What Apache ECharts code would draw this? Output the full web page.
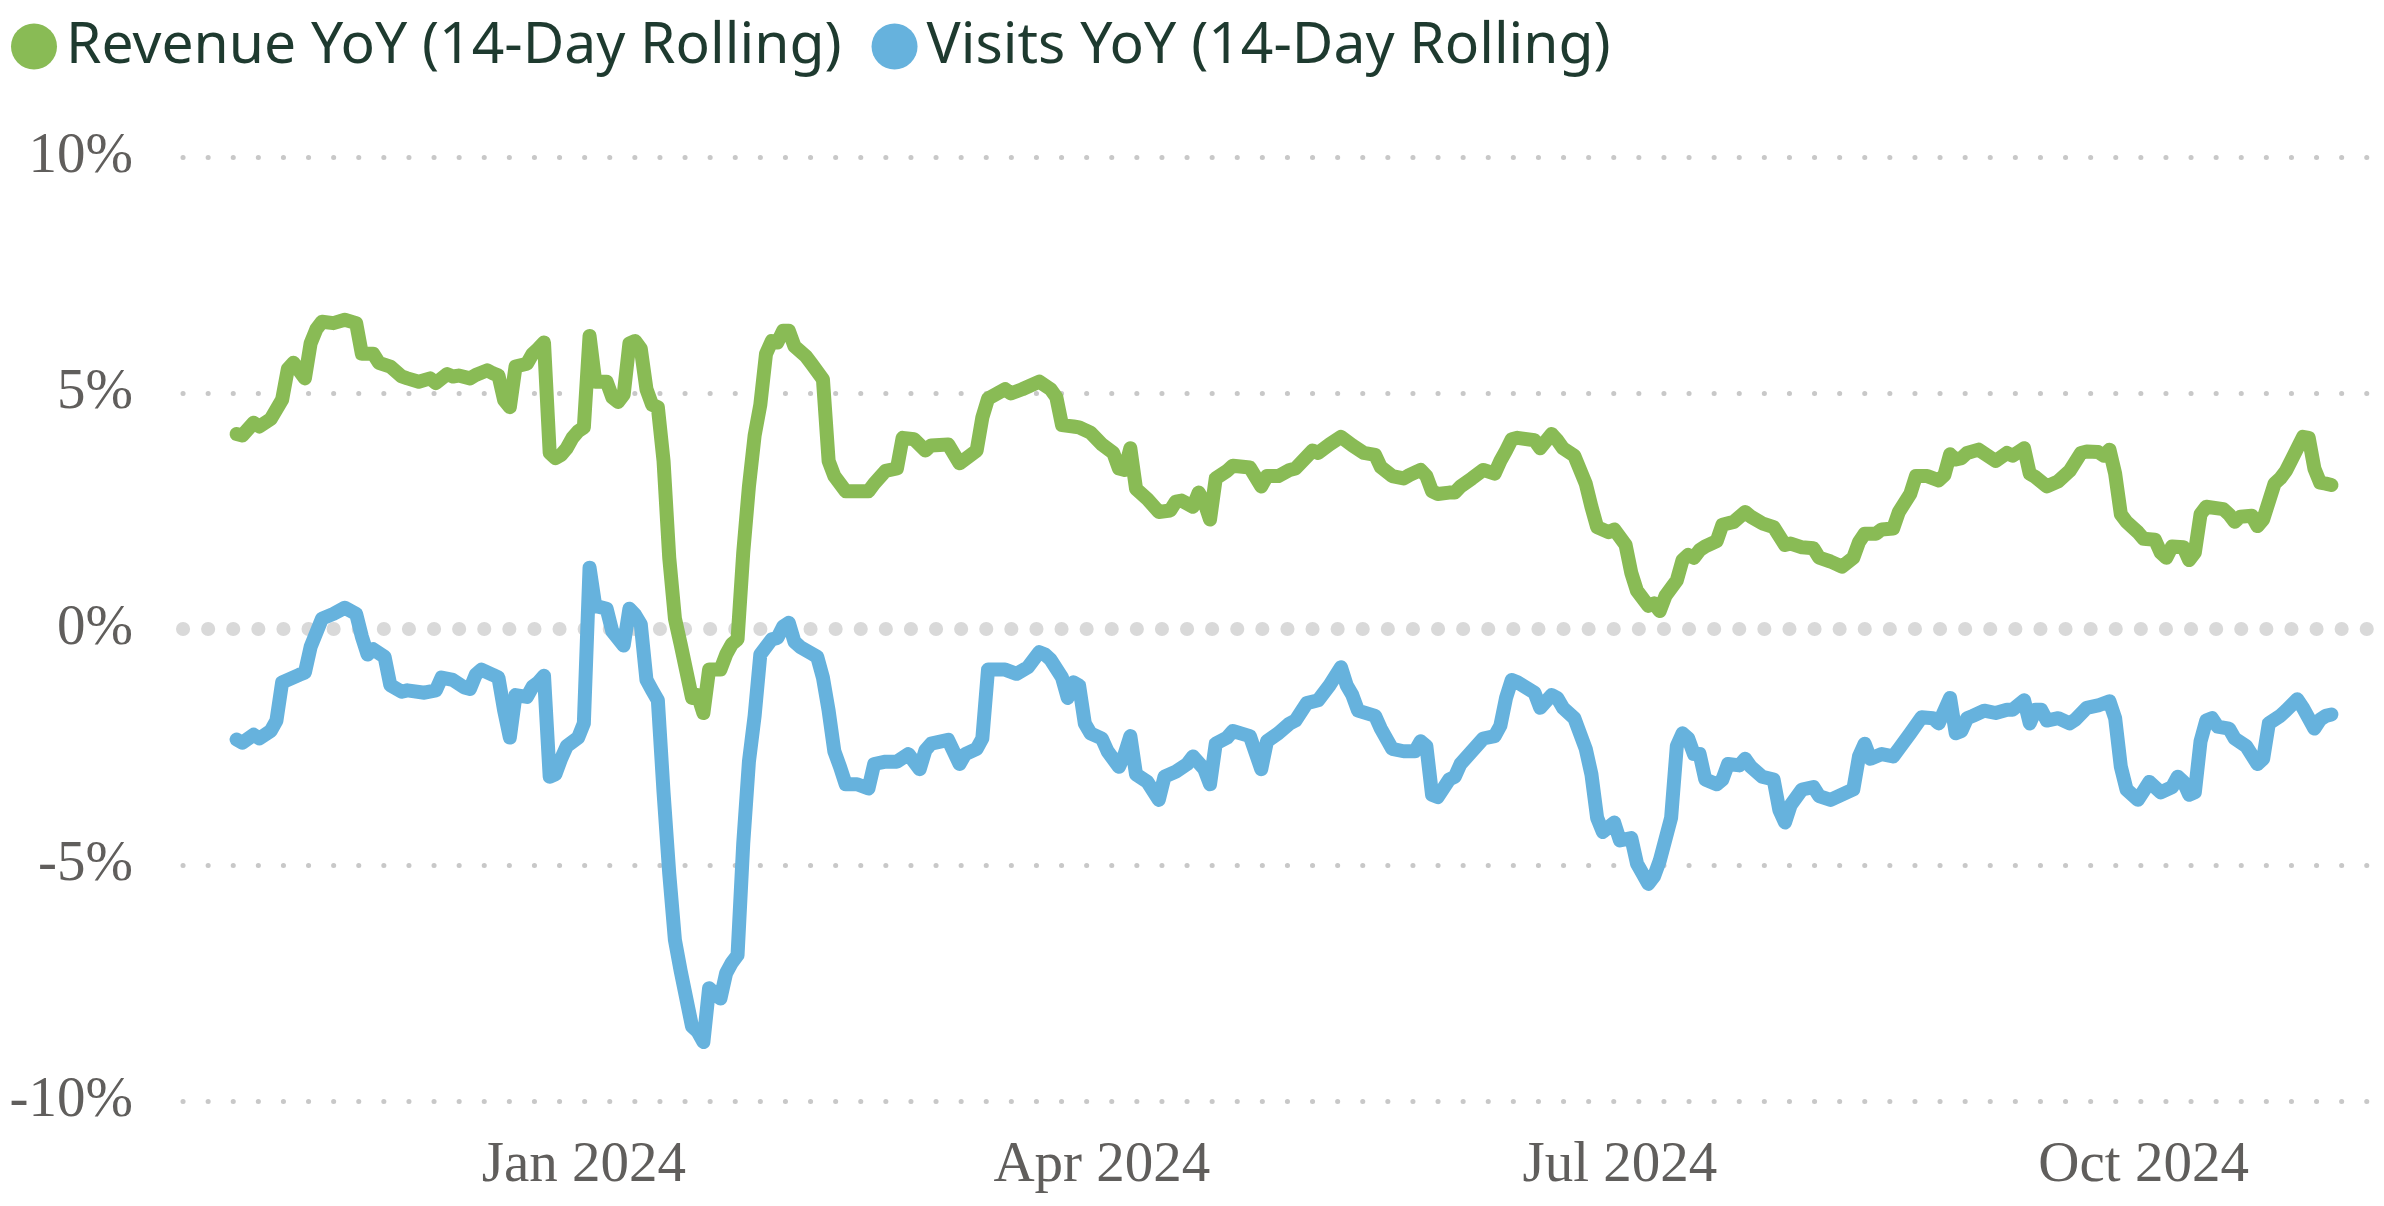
<!DOCTYPE html>
<html>
<head>
<meta charset="utf-8">
<script src="https://cdn.jsdelivr.net/npm/echarts@6/dist/echarts.min.js"></script>
<style>
html,body{margin:0;padding:0;background:#fff;}
#chart{width:2384px;height:1206px;}
</style>
</head>
<body>
<div id="chart"></div>
<script>
// ---- Data ----
const seriesNames = ['Revenue YoY (14-Day Rolling)', 'Visits YoY (14-Day Rolling)'];

const revenueDates = ['2023-11-01','2023-11-02','2023-11-04','2023-11-05','2023-11-07','2023-11-09','2023-11-10','2023-11-11','2023-11-13','2023-11-14','2023-11-15','2023-11-16','2023-11-18','2023-11-20','2023-11-22','2023-11-23','2023-11-25','2023-11-26','2023-11-28','2023-11-30',
'2023-12-01','2023-12-03','2023-12-05','2023-12-06','2023-12-08','2023-12-09','2023-12-10','2023-12-12','2023-12-13','2023-12-15','2023-12-16','2023-12-17','2023-12-18','2023-12-19','2023-12-20','2023-12-22','2023-12-23','2023-12-24','2023-12-25','2023-12-26','2023-12-27','2023-12-28','2023-12-29','2023-12-30','2023-12-31',
'2024-01-01','2024-01-02','2024-01-03','2024-01-05','2024-01-06','2024-01-07','2024-01-08','2024-01-09','2024-01-10','2024-01-11','2024-01-12','2024-01-13','2024-01-14','2024-01-15','2024-01-16','2024-01-17','2024-01-18','2024-01-20','2024-01-21','2024-01-22','2024-01-23','2024-01-25','2024-01-26','2024-01-27','2024-01-28','2024-01-29','2024-01-30','2024-01-31',
'2024-02-01','2024-02-02','2024-02-03','2024-02-04','2024-02-05','2024-02-06','2024-02-07','2024-02-09','2024-02-10','2024-02-12','2024-02-13','2024-02-14','2024-02-16','2024-02-20','2024-02-21','2024-02-23','2024-02-25','2024-02-26','2024-02-28',
'2024-03-01','2024-03-02','2024-03-05','2024-03-07','2024-03-09','2024-03-10','2024-03-11','2024-03-12','2024-03-15','2024-03-16','2024-03-18','2024-03-21','2024-03-23','2024-03-24','2024-03-25','2024-03-27','2024-03-28','2024-03-30',
'2024-04-01','2024-04-03','2024-04-04','2024-04-05','2024-04-06','2024-04-07','2024-04-09','2024-04-11','2024-04-13','2024-04-14','2024-04-15','2024-04-17','2024-04-18','2024-04-19','2024-04-20','2024-04-21','2024-04-23','2024-04-24','2024-04-27','2024-04-29','2024-04-30',
'2024-05-02','2024-05-04','2024-05-05','2024-05-08','2024-05-09','2024-05-11','2024-05-13','2024-05-15','2024-05-17','2024-05-19','2024-05-20','2024-05-22','2024-05-24','2024-05-25','2024-05-27','2024-05-28','2024-05-29','2024-05-30',
'2024-06-01','2024-06-02','2024-06-03','2024-06-05','2024-06-07','2024-06-09','2024-06-10','2024-06-11','2024-06-12','2024-06-13','2024-06-16','2024-06-17','2024-06-19','2024-06-20','2024-06-21','2024-06-23','2024-06-25','2024-06-26','2024-06-27','2024-06-29','2024-06-30',
'2024-07-02','2024-07-03','2024-07-04','2024-07-06','2024-07-07','2024-07-08','2024-07-09','2024-07-11','2024-07-12','2024-07-13','2024-07-14','2024-07-15','2024-07-16','2024-07-18','2024-07-19','2024-07-21','2024-07-23','2024-07-24','2024-07-26','2024-07-28','2024-07-30','2024-07-31',
'2024-08-02','2024-08-04','2024-08-05','2024-08-07','2024-08-09','2024-08-11','2024-08-12','2024-08-13','2024-08-15','2024-08-16','2024-08-18','2024-08-19','2024-08-21','2024-08-22','2024-08-24','2024-08-26','2024-08-27','2024-08-28','2024-08-29','2024-08-30','2024-08-31',
'2024-09-02','2024-09-05','2024-09-07','2024-09-08','2024-09-10','2024-09-11','2024-09-12','2024-09-14','2024-09-16','2024-09-18','2024-09-20','2024-09-21','2024-09-23','2024-09-24','2024-09-25','2024-09-26','2024-09-27','2024-09-28','2024-09-30',
'2024-10-01','2024-10-03','2024-10-04','2024-10-05','2024-10-06','2024-10-08','2024-10-09','2024-10-10','2024-10-11','2024-10-12','2024-10-15','2024-10-16','2024-10-17','2024-10-18','2024-10-20','2024-10-21','2024-10-22','2024-10-24','2024-10-25','2024-10-26','2024-10-27','2024-10-29','2024-10-30','2024-10-31',
'2024-11-01','2024-11-02','2024-11-03'];

const revenueValues = [4.13,4.10,4.37,4.29,4.45,4.86,5.51,5.64,5.31,6.05,6.35,6.51,6.48,6.55,6.48,5.83,5.83,5.64,5.56,5.35,
5.31,5.24,5.31,5.21,5.40,5.35,5.37,5.31,5.38,5.48,5.42,5.37,4.85,4.70,5.56,5.62,5.83,5.94,6.07,3.73,3.62,3.69,3.83,4.05,4.19,
4.27,6.21,5.24,5.24,4.91,4.81,4.97,6.05,6.10,5.94,5.08,4.75,4.70,3.56,1.51,0.22,-0.32,-1.46,-1.40,-1.78,-0.86,-0.86,-0.54,-0.32,-0.22,1.62,3.02,4.10,
4.75,5.83,6.10,6.07,6.32,6.32,5.99,5.78,5.62,5.29,3.56,3.24,2.92,2.92,3.08,3.35,3.40,4.05,4.02,
3.78,3.89,3.91,3.51,3.69,3.78,4.48,4.88,5.08,4.99,5.08,5.24,5.08,4.91,4.32,4.29,4.27,4.16,
3.91,3.73,3.40,3.37,3.83,2.97,2.75,2.48,2.51,2.70,2.72,2.59,2.89,2.68,2.32,3.19,3.35,3.46,3.42,3.02,3.24,
3.24,3.37,3.40,3.78,3.73,3.91,4.07,3.89,3.73,3.69,3.43,3.24,3.19,3.26,3.37,3.24,2.92,2.86,
2.89,2.89,3.02,3.19,3.37,3.29,3.56,3.78,4.02,4.05,4.00,3.83,4.13,4.00,3.83,3.67,3.08,2.59,2.16,2.05,2.11,
1.78,1.19,0.81,0.49,0.54,0.38,0.70,1.03,1.46,1.57,1.51,1.67,1.75,1.86,2.21,2.27,2.48,2.38,2.24,2.16,1.78,1.81,
1.73,1.71,1.51,1.43,1.32,1.51,1.84,2.02,2.02,2.11,2.13,2.48,2.86,3.24,3.24,3.15,3.26,3.70,3.59,3.62,3.73,
3.80,3.56,3.73,3.67,3.83,3.29,3.22,3.02,3.13,3.35,3.73,3.76,3.75,3.67,3.80,3.29,2.43,2.27,2.05,
1.91,1.89,1.62,1.51,1.75,1.73,1.46,1.62,2.43,2.59,2.54,2.43,2.27,2.38,2.40,2.18,2.32,3.08,3.19,3.35,3.59,4.07,4.05,3.40,
3.10,3.08,3.05];

const visitsDates = ['2023-11-01','2023-11-02','2023-11-04','2023-11-05','2023-11-07','2023-11-08','2023-11-09','2023-11-12','2023-11-13','2023-11-14','2023-11-16','2023-11-18','2023-11-20','2023-11-22','2023-11-23','2023-11-24','2023-11-25','2023-11-27','2023-11-28','2023-11-30',
'2023-12-01','2023-12-04','2023-12-06','2023-12-07','2023-12-09','2023-12-11','2023-12-12','2023-12-13','2023-12-14','2023-12-16','2023-12-17','2023-12-18','2023-12-19','2023-12-20','2023-12-22','2023-12-23','2023-12-24','2023-12-25','2023-12-26','2023-12-27','2023-12-28','2023-12-29','2023-12-31',
'2024-01-01','2024-01-02','2024-01-03','2024-01-05','2024-01-06','2024-01-08','2024-01-09','2024-01-10','2024-01-11','2024-01-12','2024-01-13','2024-01-14','2024-01-15','2024-01-16','2024-01-17','2024-01-18','2024-01-20','2024-01-21','2024-01-22','2024-01-23','2024-01-25','2024-01-26','2024-01-27','2024-01-28','2024-01-29','2024-01-30','2024-01-31',
'2024-02-01','2024-02-03','2024-02-04','2024-02-05','2024-02-06','2024-02-07','2024-02-08','2024-02-10','2024-02-11','2024-02-12','2024-02-13','2024-02-14','2024-02-15','2024-02-16','2024-02-18','2024-02-20','2024-02-21','2024-02-23','2024-02-25','2024-02-27','2024-02-29',
'2024-03-01','2024-03-02','2024-03-05','2024-03-07','2024-03-08','2024-03-10','2024-03-11','2024-03-12','2024-03-14','2024-03-15','2024-03-17','2024-03-19','2024-03-21','2024-03-22','2024-03-23','2024-03-25','2024-03-26','2024-03-27','2024-03-28','2024-03-29','2024-03-30',
'2024-04-01','2024-04-02','2024-04-04','2024-04-05','2024-04-06','2024-04-07','2024-04-09','2024-04-11','2024-04-12','2024-04-14','2024-04-16','2024-04-17','2024-04-19','2024-04-20','2024-04-21','2024-04-23','2024-04-24','2024-04-27','2024-04-29','2024-04-30',
'2024-05-02','2024-05-04','2024-05-05','2024-05-07','2024-05-09','2024-05-11','2024-05-13','2024-05-14','2024-05-15','2024-05-16','2024-05-19','2024-05-20','2024-05-22','2024-05-24','2024-05-26','2024-05-27','2024-05-28','2024-05-29','2024-05-30',
'2024-06-01','2024-06-02','2024-06-03','2024-06-05','2024-06-07','2024-06-09','2024-06-10','2024-06-11','2024-06-12','2024-06-13','2024-06-16','2024-06-17','2024-06-19','2024-06-20','2024-06-21','2024-06-23','2024-06-25','2024-06-26','2024-06-27','2024-06-28','2024-06-30',
'2024-07-01','2024-07-03','2024-07-04','2024-07-06','2024-07-07','2024-07-08','2024-07-10','2024-07-11','2024-07-12','2024-07-13','2024-07-14','2024-07-15','2024-07-16','2024-07-18','2024-07-19','2024-07-20','2024-07-22','2024-07-23','2024-07-24','2024-07-26','2024-07-28','2024-07-29','2024-07-30','2024-07-31',
'2024-08-02','2024-08-04','2024-08-05','2024-08-07','2024-08-09','2024-08-11','2024-08-12','2024-08-13','2024-08-14','2024-08-16','2024-08-18','2024-08-19','2024-08-21','2024-08-23','2024-08-25','2024-08-26','2024-08-28','2024-08-29','2024-08-30','2024-08-31',
'2024-09-01','2024-09-03','2024-09-05','2024-09-07','2024-09-08','2024-09-10','2024-09-11','2024-09-12','2024-09-13','2024-09-14','2024-09-16','2024-09-18','2024-09-19','2024-09-21','2024-09-23','2024-09-25','2024-09-26','2024-09-27','2024-09-28','2024-09-30',
'2024-10-01','2024-10-02','2024-10-04','2024-10-06','2024-10-07','2024-10-08','2024-10-09','2024-10-10','2024-10-11','2024-10-12','2024-10-13','2024-10-14','2024-10-16','2024-10-17','2024-10-19','2024-10-21','2024-10-22','2024-10-23','2024-10-25','2024-10-26','2024-10-28','2024-10-29','2024-10-31',
'2024-11-01','2024-11-02','2024-11-03'];

const visitsValues = [-2.34,-2.41,-2.24,-2.32,-2.16,-1.94,-1.13,-0.97,-0.92,-0.38,0.22,0.32,0.45,0.32,-0.16,-0.54,-0.43,-0.59,-1.19,-1.33,
-1.30,-1.35,-1.30,-1.03,-1.08,-1.24,-1.27,-0.97,-0.86,-0.97,-1.03,-1.73,-2.30,-1.40,-1.44,-1.22,-1.13,-0.99,-3.13,-3.08,-2.75,-2.48,-2.30,
-2.00,1.30,0.49,0.43,-0.05,-0.35,0.43,0.30,0.10,-1.08,-1.30,-1.51,-3.46,-5.18,-6.59,-7.24,-8.42,-8.53,-8.75,-7.61,-7.83,-7.29,-7.07,-6.91,-4.54,-2.81,-1.84,
-0.54,-0.22,-0.19,0.05,0.13,-0.27,-0.38,-0.52,-0.59,-1.03,-1.73,-2.59,-2.92,-3.29,-3.29,-3.38,-2.86,-2.81,-2.81,-2.65,-2.97,
-2.57,-2.43,-2.35,-2.86,-2.65,-2.54,-2.32,-0.86,-0.86,-0.86,-0.95,-0.81,-0.49,-0.54,-0.65,-1.03,-1.46,-1.13,-1.20,-2.00,-2.21,
-2.32,-2.59,-2.92,-2.65,-2.27,-3.08,-3.24,-3.62,-3.13,-3.02,-2.86,-2.70,-2.97,-3.29,-2.43,-2.30,-2.16,-2.27,-2.97,-2.38,
-2.21,-2.00,-1.94,-1.57,-1.51,-1.19,-0.81,-1.19,-1.40,-1.73,-1.84,-2.11,-2.54,-2.59,-2.59,-2.38,-2.48,-3.51,-3.56,
-3.19,-3.13,-2.86,-2.59,-2.32,-2.27,-2.05,-1.46,-1.08,-1.13,-1.35,-1.67,-1.40,-1.46,-1.67,-1.89,-2.54,-3.08,-4.00,-4.30,-4.10,
-4.48,-4.43,-4.97,-5.40,-5.24,-4.91,-4.00,-2.48,-2.21,-2.32,-2.65,-2.65,-3.19,-3.29,-3.19,-2.86,-2.89,-2.75,-2.92,-3.13,-3.19,-3.83,-4.10,-3.73,
-3.40,-3.35,-3.54,-3.62,-3.51,-3.40,-2.70,-2.43,-2.75,-2.65,-2.70,-2.54,-2.21,-1.87,-1.89,-2.00,-1.46,-2.21,-2.16,-1.89,
-1.84,-1.73,-1.78,-1.71,-1.71,-1.51,-2.00,-1.71,-1.71,-1.94,-1.89,-2.00,-1.92,-1.67,-1.62,-1.53,-1.89,-2.92,-3.40,-3.62,
-3.43,-3.24,-3.46,-3.35,-3.13,-3.24,-3.51,-3.46,-2.38,-1.94,-1.89,-2.07,-2.11,-2.32,-2.48,-2.86,-2.75,-2.00,-1.84,-1.73,-1.49,-1.67,-2.11,
-1.92,-1.84,-1.81];

const xTickDates = ['2024-01-01', '2024-04-01', '2024-07-01', '2024-10-01'];
const monthNames = ['Jan','Feb','Mar','Apr','May','Jun','Jul','Aug','Sep','Oct','Nov','Dec'];
const yTicks = [-10, -5, 0, 5, 10];

// ---- Build ----
function toTs(s) { const p = s.split('-').map(Number); return new Date(p[0], p[1] - 1, p[2]).getTime(); }
const revenueData = revenueDates.map((d, i) => [toTs(d), revenueValues[i]]);
const visitsData = visitsDates.map((d, i) => [toTs(d), visitsValues[i]]);

const xMin = new Date(2023, 9, 22, 14).getTime();
const xMax = new Date(2024, 10, 9, 10).getTime();

const chart = echarts.init(document.getElementById('chart'));
chart.setOption({
  animation: false,
  backgroundColor: '#ffffff',
  legend: {
    left: 6, top: 13,
    icon: 'circle',
    itemWidth: 46, itemHeight: 46,
    itemGap: 30,
    textStyle: { fontFamily: 'Noto Sans', fontSize: 57, color: '#1E3A2F', padding: [0, 0, 0, 4] },
    data: seriesNames
  },
  grid: { left: 183, right: 16, top: 157, bottom: 105, containLabel: false },
  xAxis: {
    type: 'value',
    min: xMin, max: xMax,
    axisLine: { show: false },
    axisTick: { show: false },
    splitLine: { show: false },
    axisLabel: {
      customValues: xTickDates.map(toTs),
      margin: 37,
      fontFamily: 'Liberation Serif', fontSize: 57, color: '#605E5C',
      formatter: function (v) { const d = new Date(v); return monthNames[d.getMonth()] + ' ' + d.getFullYear(); }
    }
  },
  yAxis: {
    type: 'value',
    min: yTicks[0], max: yTicks[yTicks.length - 1], interval: 5,
    axisLine: { show: false },
    axisTick: { show: false },
    axisLabel: {
      margin: 50,
      fontFamily: 'Liberation Serif', fontSize: 57, color: '#605E5C',
      formatter: '{value}%'
    },
    splitLine: { show: true, lineStyle: { color: '#c8c8c8', width: 5, type: [0.1, 25], cap: 'round' } }
  },
  series: [
    {
      name: 'zero', type: 'line', data: [], z: 1, silent: true,
      markLine: {
        silent: true, symbol: 'none', label: { show: false },
        lineStyle: { color: '#d9d9d9', width: 14, type: [0.1, 25], cap: 'round' },
        data: [{ yAxis: 0 }]
      }
    },
    {
      name: seriesNames[0], type: 'line', data: revenueData, z: 5,
      showSymbol: false, symbol: 'circle',
      color: '#89BB55',
      lineStyle: { width: 14, color: '#89BB55', cap: 'round', join: 'round' }
    },
    {
      name: seriesNames[1], type: 'line', data: visitsData, z: 5,
      showSymbol: false, symbol: 'circle',
      color: '#66B2DD',
      lineStyle: { width: 14, color: '#66B2DD', cap: 'round', join: 'round' }
    }
  ]
});
</script>
</body>
</html>
